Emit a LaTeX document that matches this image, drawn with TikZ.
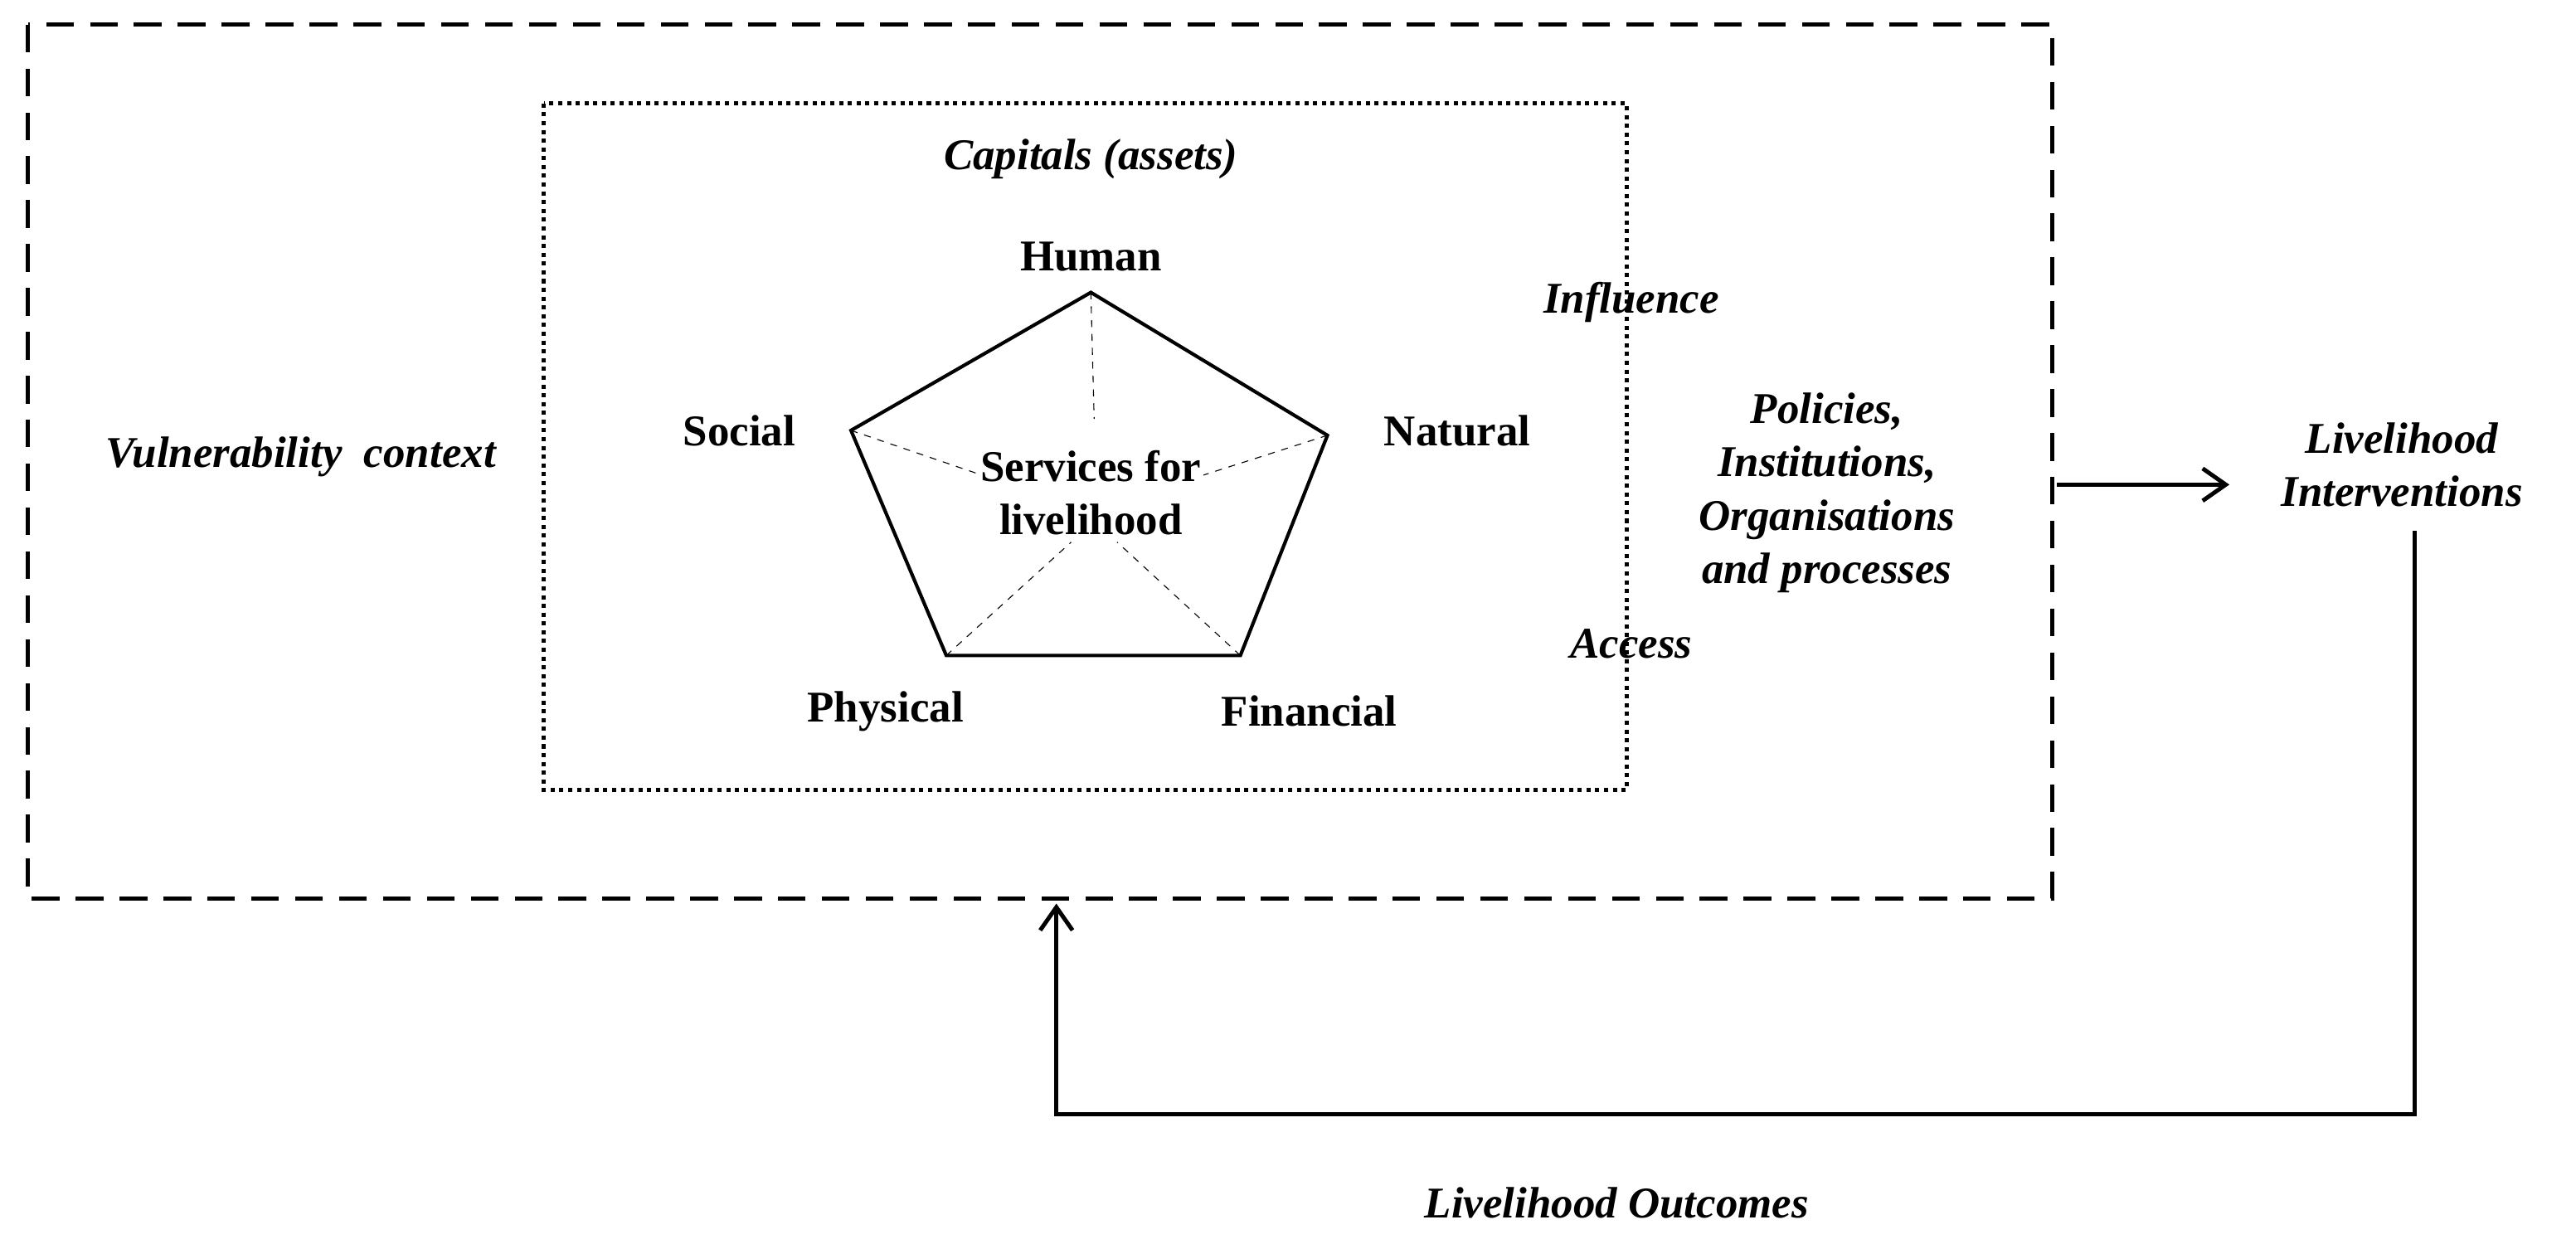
\documentclass[tikz,border=0pt]{standalone}
\usepackage{fontspec}
\setmainfont{Liberation Serif}
\usetikzlibrary{arrows.meta}
\begin{document}
\begin{tikzpicture}[x=0.025cm,y=-0.025cm,
  lab/.style={font=\fontsize{19}{23}\selectfont\bfseries},
  ilab/.style={font=\fontsize{19}{23}\selectfont\bfseries\itshape,align=center},
  arr/.style={line width=1.8pt,-{Straight Barb[length=10pt,width=14pt]}}]
\useasboundingbox (0,0) rectangle (1568,757);
\draw[line width=1.8pt,dash pattern=on 12pt off 7pt] (17,15) rectangle (1249,547);
\draw[line width=1.8pt,dotted] (331,63) rectangle (990,481);
\coordinate (T) at (664,178); \coordinate (R) at (808,265); \coordinate (BR) at (755,399);
\coordinate (BL) at (576,399); \coordinate (L) at (518,262);
\draw[line width=1.5pt,line join=miter] (T)--(R)--(BR)--(BL)--(L)--cycle;
\draw[dashed,thin] (T)--(666,255) (L)--(600,290) (R)--(730,290) (BL)--(652,330) (BR)--(680,330);
\node[lab,align=center,fill=white,inner sep=1pt] (svc) at (664,300) {Services for\\livelihood};
\node[ilab] (cap) at (664,97) {Capitals (assets)};
\node[lab] (hum) at (664,156) {Human};
\node[lab] (soc) at (450,262) {Social};
\node[lab] (nat) at (887,262) {Natural};
\node[lab] (phy) at (539,433) {Physical};
\node[lab] (fin) at (797,433) {Financial};
\node[ilab] (vul) at (183,278) {Vulnerability\ \ context};
\node[ilab] (inf) at (993,184) {Influence};
\node[ilab] (pol) at (1112,300) {Policies,\\Institutions,\\Organisations\\and processes};
\node[ilab] (acc) at (993,392) {Access};
\node[ilab] (li) at (1462,283) {Livelihood\\Interventions};
\node[ilab] (lo) at (984,732) {Livelihood Outcomes};
\coordinate (a1) at (1252,295); \coordinate (a2) at (1357,295);
\draw[arr] (a1)--(a2);
\coordinate (c1) at (1470,323); \coordinate (c2) at (1470,678); \coordinate (c3) at (643,678); \coordinate (c4) at (643,550);
\draw[arr] (c1)--(c2)--(c3)--(c4);
\end{tikzpicture}
\end{document}
